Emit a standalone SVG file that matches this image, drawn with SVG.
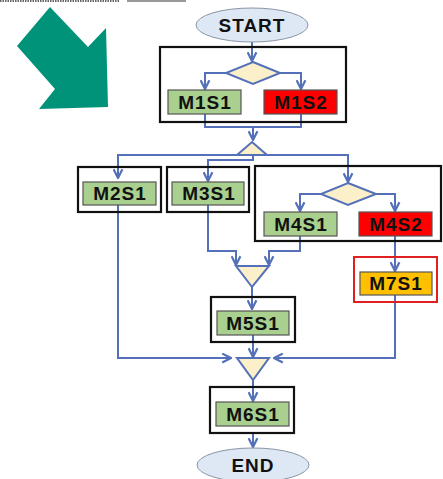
<svg xmlns="http://www.w3.org/2000/svg" width="443" height="479" viewBox="0 0 443 479">
<defs>
<marker id="ah" viewBox="0 0 10 10" refX="9" refY="5" markerWidth="5.5" markerHeight="5.5" orient="auto" markerUnits="strokeWidth">
<polyline points="1,1 9,5 1,9" fill="none" stroke="#5470b8" stroke-width="2"/>
</marker>
<style>
.c{fill:none;stroke:#5470b8;stroke-width:2}
.a{marker-end:url(#ah)}
.grp{fill:none;stroke:#111;stroke-width:2.2}
.g{fill:#a9d08e;stroke:#555;stroke-width:1.2}
.r{fill:#ff0000;stroke:#555;stroke-width:1.2}
.y{fill:#ffc000;stroke:#555;stroke-width:1.2}
.dm{fill:#fcf0cb;stroke:#5470b8;stroke-width:2}
.el{fill:#dde8f4;stroke:#8a95a5;stroke-width:1}
.t{font-family:"Liberation Sans",Arial,sans-serif;font-weight:bold;font-size:19px;fill:#111;text-anchor:middle;letter-spacing:1px}
</style>
</defs>
<rect width="443" height="479" fill="#fff"/>
<line x1="0" y1="1" x2="120" y2="1" stroke="#666" stroke-width="2" stroke-dasharray="1.5,1"/>
<line x1="127" y1="1" x2="186" y2="1" stroke="#999" stroke-width="2"/>
<polygon id="bigarrow" points="50,7 88,47 106,28 108,107 39,109 55,89 17,46" fill="#00937a"/>

<g id="connectors">
<path class="c a" d="M252,42 V61"/>
<path class="c a" d="M226,73 H205 V89"/>
<path class="c a" d="M280,73 H301 V89"/>
<path class="c" d="M205,114 V127 H301 V114"/>
<path class="c a" d="M253,127 V140"/>
<path class="c a" d="M237,155 H118 V178"/>
<path class="c a" d="M267,155 H348 V182"/>
<path class="c a" d="M253,155 V160 H208 V181"/>
<path class="c a" d="M321,194 H300 V211"/>
<path class="c a" d="M376,194 H395 V211"/>
<path class="c a" d="M208,205 V251 H236 V265"/>
<path class="c a" d="M300,236 V251 H269 V265"/>
<path class="c a" d="M252,287 V309"/>
<path class="c a" d="M395,236 V271"/>
<path class="c a" d="M118,205 V358 H231"/>
<path class="c a" d="M395,295 V358 H274"/>
<path class="c a" d="M253,335 V357"/>
<path class="c a" d="M253,380 V401"/>
<path class="c a" d="M253,433 V447"/>
</g>

<g id="start">
<ellipse class="el" cx="252" cy="25" rx="56" ry="17"/>
<text class="t" x="252" y="32">START</text>
</g>
<g id="group1"><rect class="grp" x="160" y="47" width="186" height="75"/></g>
<g id="decision1"><polygon class="dm" points="253,62 280,73 253,84 226,73"/></g>
<g id="M1S1"><rect class="g" x="168" y="90" width="73" height="24"/><text class="t" x="205" y="109">M1S1</text></g>
<g id="M1S2"><rect class="r" x="264" y="90" width="73" height="24"/><text class="t" x="301" y="109">M1S2</text></g>
<g id="split1"><polygon class="dm" points="252,142 267,155 237,155"/></g>

<g id="M2S1"><rect class="grp" x="78" y="167" width="83" height="45"/><rect class="g" x="83" y="182" width="73" height="23"/><text class="t" x="120" y="200">M2S1</text></g>
<g id="M3S1"><rect class="grp" x="167" y="167" width="82" height="45"/><rect class="g" x="172" y="182" width="72" height="23"/><text class="t" x="209" y="200">M3S1</text></g>
<g id="group4"><rect class="grp" x="255" y="166" width="186" height="75"/></g>
<g id="decision4"><polygon class="dm" points="348,183 376,194 348,205 321,194"/></g>
<g id="M4S1"><rect class="g" x="264" y="212" width="73" height="24"/><text class="t" x="301" y="231">M4S1</text></g>
<g id="M4S2"><rect class="r" x="359" y="212" width="73" height="24"/><text class="t" x="396" y="231">M4S2</text></g>
<g id="merge2"><polygon class="dm" points="236,266 269,266 252,287"/></g>
<g id="M7S1"><rect x="354" y="257" width="83" height="45" fill="none" stroke="#e02020" stroke-width="2"/><rect class="y" x="360" y="272" width="72" height="23"/><text class="t" x="396" y="290">M7S1</text></g>
<g id="M5S1"><rect class="grp" x="211" y="297" width="84" height="45"/><rect class="g" x="217" y="311" width="72" height="24"/><text class="t" x="253" y="330">M5S1</text></g>
<g id="merge3"><polygon class="dm" points="237,358 269,358 253,380"/></g>
<g id="M6S1"><rect class="grp" x="210" y="387" width="84" height="46"/><rect class="g" x="216" y="402" width="73" height="24"/><text class="t" x="253" y="421">M6S1</text></g>
<g id="end">
<ellipse class="el" cx="253" cy="465" rx="56" ry="17"/>
<text class="t" x="253" y="472">END</text>
</g>
</svg>
